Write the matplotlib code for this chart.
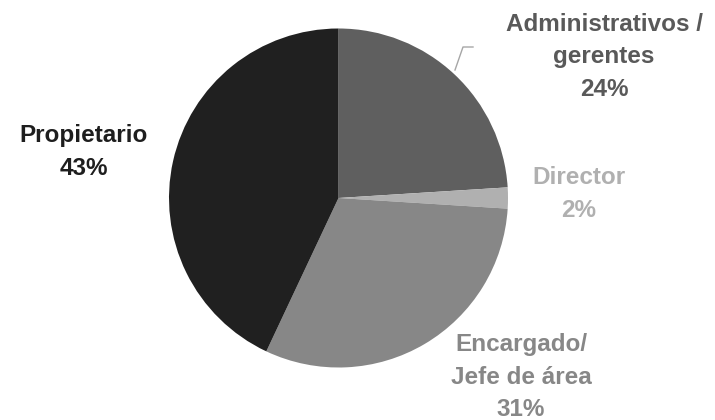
import matplotlib
matplotlib.use("Agg")
import matplotlib.pyplot as plt

labels = ["Administrativos /\ngerentes", "Director", "Encargado/\nJefe de área", "Propietario"]
values = [24, 2, 31, 43]
colors = ["#5f5f5f", "#b0b0b0", "#878787", "#202020"]
text_colors = ["#595959", "#b0b0b0", "#878787", "#1e1e1e"]

W, H = 715, 420
cx, cy, r = 338.5, 198, 169.5

plt.rcParams["font.family"] = ["Liberation Sans", "DejaVu Sans"]

fig = plt.figure(figsize=(W / 100, H / 100), dpi=100)
ax = fig.add_axes([(cx - r) / W, (H - cy - r) / H, 2 * r / W, 2 * r / H])
ax.pie(values, colors=colors, startangle=90, counterclock=False,
       radius=1, wedgeprops=dict(linewidth=0))
ax.set_xlim(-1, 1)
ax.set_ylim(-1, 1)
ax.set_aspect("equal")
ax.axis("off")


def to_data(px, py):
    return (px - cx) / r, (cy - py) / r


# label centres in pixels (middle of the text block)
label_pos = [(604, 57), (579, 194), (521, 377), (84, 152)]
for lab, val, col, (px, py) in zip(labels, values, text_colors, label_pos):
    x, y = to_data(px, py)
    ax.text(x, y, f"{lab}\n{val}%", ha="center", va="center", multialignment="center",
            fontsize=17.5, fontweight="bold", color=col, linespacing=1.55, clip_on=False)

# leader line for the first label
lx, ly = zip(to_data(455, 70), to_data(463, 47), to_data(473, 47))
ax.plot(lx, ly, color="#a6a6a6", linewidth=1, clip_on=False)

fig.savefig("out.png", dpi=100, facecolor="white")
